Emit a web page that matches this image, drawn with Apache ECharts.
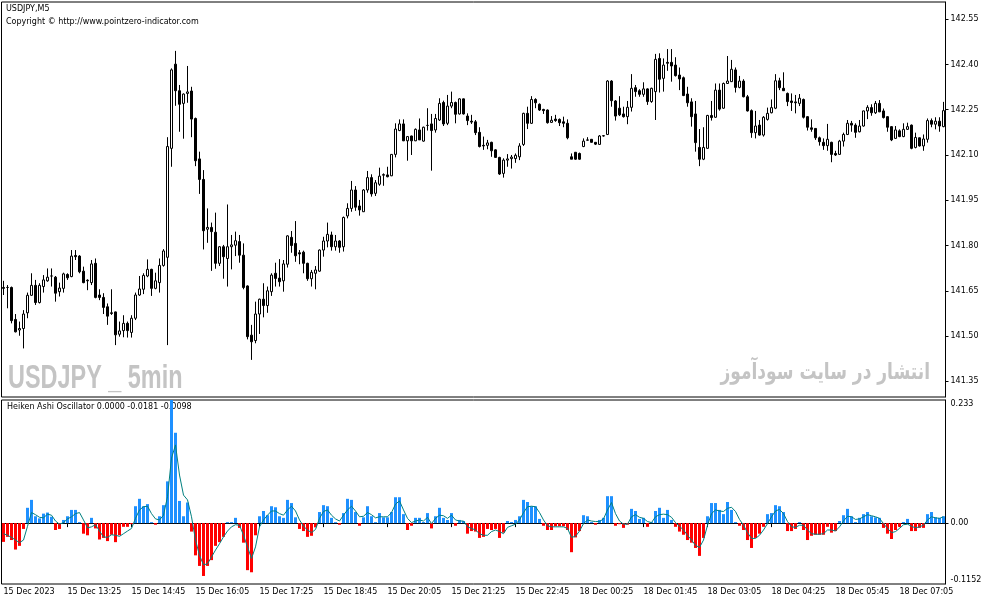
<!DOCTYPE html>
<html><head><meta charset="utf-8">
<script src="https://cdn.jsdelivr.net/npm/echarts@6/dist/echarts.min.js"></script>
<style>html,body{margin:0;padding:0;background:#fff}#c{width:987px;height:605px}</style>
</head><body><div id="c"></div>
<script>
const xTickLabels = ['15 Dec 2023','15 Dec 13:25','15 Dec 14:45','15 Dec 16:05','15 Dec 17:25','15 Dec 18:45','15 Dec 20:05','15 Dec 21:25','15 Dec 22:45','18 Dec 00:25','18 Dec 01:45','18 Dec 03:05','18 Dec 04:25','18 Dec 05:45','18 Dec 07:05'];
const priceTicks = [141.35,141.50,141.65,141.80,141.95,142.10,142.25,142.40,142.55];
const oscTickValues = [-0.1152, 0, 0.233];
const oscTickLabels = ['-0.1152','0.00','0.233'];

const open = [
141.661,141.661,141.661,141.555,141.520,141.525,141.577,141.635,141.668,141.611,
141.664,141.683,141.699,141.695,141.647,141.658,141.704,141.697,141.767,141.765,
141.715,141.685,141.677,141.741,141.636,141.628,141.597,141.577,141.580,141.506,
141.518,141.542,141.512,141.559,141.636,141.655,141.699,141.721,141.658,141.677,
141.734,141.761,142.122,142.401,142.313,142.271,142.304,142.312,142.221,142.087,
142.019,141.854,141.860,141.844,141.741,141.796,141.757,141.796,141.801,141.813,
141.768,141.666,141.503,141.485,141.573,141.622,141.601,141.647,141.708,141.692,
141.683,141.738,141.827,141.807,141.776,141.778,141.741,141.690,141.708,141.715,
141.785,141.815,141.835,141.796,141.815,141.796,141.898,141.923,141.984,141.931,
141.912,141.984,142.025,141.973,142.003,142.033,142.034,142.031,142.102,142.181,
142.203,142.147,142.163,142.147,142.183,142.146,142.198,142.203,142.183,142.216,
142.274,142.205,142.262,142.274,142.236,142.286,142.229,142.212,142.210,142.175,
142.132,142.132,142.142,142.117,142.092,142.039,142.083,142.088,142.088,142.094,
142.135,142.238,142.205,142.284,142.268,142.251,142.249,142.208,142.219,142.218,
142.210,142.205,142.094,142.109,142.105,142.128,142.149,142.152,142.142,142.135,
142.163,142.168,142.345,142.279,142.255,142.236,142.227,142.258,142.323,142.313,
142.301,142.319,142.277,142.310,142.420,142.354,142.407,142.407,142.398,142.365,
142.356,142.302,142.276,142.236,142.125,142.086,142.122,142.231,142.225,142.315,
142.255,142.337,142.343,142.382,142.324,142.345,142.293,142.247,142.174,142.199,
142.166,142.218,142.240,142.255,142.346,142.321,142.304,142.279,142.276,142.271,
142.284,142.227,142.190,142.188,142.157,142.142,142.131,142.142,142.105,142.102,
142.146,142.168,142.205,142.199,142.177,142.196,142.246,142.257,142.240,142.271,
142.246,142.227,142.194,142.155,142.180,142.161,142.185,142.199,142.125,142.157,
142.130,142.152,142.214,142.202,142.212,142.194];

const close = [
141.658,141.661,141.551,141.514,141.525,141.573,141.635,141.668,141.611,141.668,
141.686,141.695,141.699,141.642,141.659,141.706,141.693,141.765,141.763,141.713,
141.677,141.683,141.739,141.628,141.628,141.595,141.566,141.575,141.504,141.517,
141.542,141.518,141.559,141.636,141.656,141.701,141.721,141.658,141.683,141.734,
141.782,142.128,142.382,142.313,142.268,142.302,142.309,142.219,142.081,142.019,
141.849,141.860,141.846,141.741,141.796,141.763,141.796,141.802,141.816,141.768,
141.661,141.498,141.481,141.573,141.622,141.601,141.650,141.702,141.691,141.680,
141.739,141.832,141.800,141.766,141.772,141.741,141.690,141.711,141.719,141.785,
141.815,141.837,141.796,141.815,141.794,141.893,141.923,141.984,141.927,141.918,
141.984,142.025,141.971,142.008,142.030,142.035,142.028,142.102,142.186,142.203,
142.147,142.161,142.147,142.185,142.150,142.192,142.198,142.181,142.221,142.271,
142.203,142.262,142.274,142.235,142.286,142.236,142.214,142.209,142.174,142.128,
142.130,142.140,142.114,142.092,142.037,142.083,142.087,142.093,142.099,142.130,
142.238,142.205,142.284,142.273,142.249,142.247,142.207,142.215,142.214,142.207,
142.205,142.157,142.086,142.086,142.086,142.146,142.150,142.142,142.136,142.163,
142.164,142.345,142.280,142.229,142.233,142.227,142.258,142.321,142.310,142.301,
142.319,142.277,142.321,142.417,142.351,142.398,142.404,142.395,142.363,142.352,
142.297,142.273,142.227,142.141,142.086,142.125,142.231,142.224,142.315,142.252,
142.337,142.345,142.384,142.324,142.345,142.293,142.246,142.174,142.196,142.166,
142.225,142.238,142.257,142.346,142.323,142.313,142.277,142.274,142.273,142.288,
142.225,142.192,142.185,142.157,142.144,142.131,142.152,142.102,142.100,142.146,
142.168,142.205,142.199,142.175,142.196,142.246,142.258,142.240,142.271,142.243,
142.224,142.192,142.150,142.183,142.161,142.185,142.194,142.122,142.158,142.130,
142.153,142.214,142.202,142.212,142.196,142.247];

const low = [
141.636,141.592,141.542,141.512,141.501,141.459,141.559,141.633,141.603,141.608,
141.644,141.680,141.664,141.614,141.631,141.644,141.686,141.695,141.752,141.708,
141.675,141.652,141.669,141.625,141.619,141.573,141.537,141.570,141.470,141.498,
141.496,141.495,141.495,141.553,141.633,141.639,141.695,141.633,141.655,141.644,
141.730,141.470,142.061,142.263,142.177,142.154,142.273,142.159,142.063,141.971,
141.787,141.809,141.716,141.723,141.732,141.690,141.664,141.721,141.765,141.743,
141.655,141.489,141.421,141.476,141.507,141.562,141.577,141.633,141.664,141.664,
141.647,141.727,141.776,141.746,141.738,141.708,141.683,141.664,141.655,141.713,
141.763,141.794,141.783,141.783,141.776,141.780,141.890,141.912,141.915,141.899,
141.911,141.975,141.962,141.964,141.998,141.998,142.026,142.030,142.092,142.179,
142.146,142.081,142.100,142.146,142.150,142.144,142.181,142.048,142.174,142.213,
142.196,142.199,142.255,142.205,142.234,142.234,142.199,142.203,142.166,142.125,
142.117,142.119,142.094,142.090,142.034,142.025,142.061,142.055,142.074,142.083,
142.130,142.186,142.203,142.255,142.246,142.236,142.204,142.207,142.210,142.196,
142.192,142.152,142.086,142.084,142.084,142.126,142.147,142.141,142.133,142.134,
142.161,142.166,142.260,142.214,142.229,142.224,142.202,142.244,142.293,142.293,
142.293,142.266,142.273,142.216,142.307,142.310,142.379,142.343,142.360,142.315,
142.295,142.260,142.194,142.111,142.063,142.083,142.121,142.214,142.223,142.247,
142.253,142.336,142.342,142.307,142.321,142.291,142.244,142.157,142.155,142.164,
142.161,142.214,142.238,142.252,142.315,142.312,142.262,142.246,142.238,142.262,
142.221,142.181,142.177,142.150,142.131,142.117,142.114,142.076,142.097,142.100,
142.128,142.166,142.177,142.157,142.175,142.194,142.219,142.230,142.236,142.242,
142.221,142.177,142.146,142.153,142.159,142.159,142.183,142.119,142.122,142.128,
142.114,142.141,142.192,142.185,142.177,142.192];

const high = [
141.683,141.669,141.664,141.573,141.548,141.586,141.644,141.708,141.686,141.675,
141.702,141.724,141.724,141.699,141.677,141.710,141.708,141.785,141.785,141.768,
141.730,141.688,141.752,141.757,141.655,141.642,141.608,141.655,141.581,141.548,
141.569,141.548,141.569,141.644,141.699,141.708,141.754,141.723,141.710,141.757,
141.788,142.159,142.387,142.445,142.332,142.304,142.395,142.326,142.224,142.111,
142.050,141.923,141.876,141.909,141.798,141.802,141.936,141.835,141.846,141.835,
141.807,141.668,141.537,141.614,141.624,141.675,141.664,141.708,141.743,141.755,
141.752,141.834,141.848,141.881,141.785,141.783,141.743,141.719,141.732,141.787,
141.829,141.876,141.846,141.835,141.818,141.896,141.940,142.014,141.997,141.951,
141.987,142.047,142.036,142.017,142.058,142.039,142.061,142.103,142.205,142.218,
142.218,142.163,142.164,142.188,142.221,142.194,142.255,142.236,142.236,142.288,
142.280,142.299,142.310,142.277,142.288,142.287,142.238,142.233,142.216,142.192,
142.161,142.150,142.144,142.119,142.094,142.089,142.103,142.100,142.105,142.139,
142.240,142.260,142.295,142.288,142.271,142.253,142.251,142.229,142.233,142.221,
142.227,142.218,142.105,142.110,142.108,142.155,142.159,142.153,142.143,142.166,
142.166,142.348,142.348,142.282,142.295,142.260,142.279,142.368,142.332,142.318,
142.341,142.321,142.323,142.435,142.437,142.420,142.451,142.451,142.424,142.390,
142.360,142.326,142.288,142.279,142.186,142.192,142.233,142.279,142.337,142.337,
142.340,142.428,142.415,142.390,142.362,142.351,142.299,142.251,142.246,142.216,
142.229,142.257,142.284,142.368,142.356,142.374,142.307,142.304,142.299,142.302,
142.287,142.229,142.218,142.189,142.161,142.155,142.203,142.144,142.114,142.150,
142.174,142.216,142.213,142.205,142.216,142.247,142.265,142.268,142.279,142.282,
142.254,142.229,142.196,142.196,142.185,142.205,142.207,142.201,142.174,142.158,
142.168,142.221,142.221,142.225,142.225,142.276];

const oscHist = [
-0.0355,-0.026,-0.032,-0.050,-0.043,-0.011,0.029,0.044,0.013,0.009,
0.018,0.020,0.012,-0.013,-0.011,0.006,0.013,0.025,0.025,0.002,
-0.020,-0.023,0.010,-0.010,-0.031,-0.028,-0.034,-0.022,-0.036,-0.023,
-0.007,-0.007,-0.002,0.032,0.046,0.032,0.036,0.001,-0.003,0.013,
0.034,0.079,0.233,0.171,0.042,0.013,0.039,-0.016,-0.061,-0.081,
-0.100,-0.081,-0.070,-0.043,-0.036,-0.026,0.001,0.001,0.010,-0.009,
-0.037,-0.089,-0.093,-0.023,0.013,0.023,0.015,0.032,0.030,0.013,
0.010,0.044,0.038,0.011,-0.011,-0.015,-0.026,-0.024,-0.008,0.021,
0.034,0.032,0.010,0.001,-0.003,0.019,0.046,0.044,0.021,-0.005,
0.011,0.032,0.013,0.001,0.019,0.011,0.011,0.021,0.049,0.049,
0.017,-0.013,-0.005,0.010,0.010,0.002,0.019,-0.010,0.013,0.029,
0.010,0.006,0.019,-0.005,0.006,0.004,-0.020,-0.015,-0.016,-0.028,
-0.026,-0.011,-0.013,-0.011,-0.028,-0.018,0.004,0.002,0.006,0.013,
0.044,0.040,0.032,0.032,0.008,-0.005,-0.013,-0.013,-0.006,-0.006,
-0.006,-0.013,-0.055,-0.027,-0.015,0.015,0.013,0.002,-0.003,0.006,
0.010,0.051,0.051,-0.005,-0.002,-0.009,-0.003,0.027,0.023,0.008,
0.010,-0.007,0.001,0.023,0.029,0.010,0.025,0.006,-0.007,-0.016,
-0.022,-0.032,-0.037,-0.047,-0.062,-0.028,0.013,0.038,0.038,0.025,
0.017,0.040,0.025,0.002,-0.005,-0.013,-0.032,-0.047,-0.028,-0.020,
-0.007,0.017,0.019,0.034,0.032,0.021,-0.015,-0.015,-0.011,0.002,
-0.013,-0.032,-0.024,-0.022,-0.022,-0.022,-0.007,-0.018,-0.015,0.004,
0.015,0.027,0.013,0.002,0.010,0.017,0.021,0.013,0.011,0.010,
-0.009,-0.020,-0.030,-0.013,-0.007,0.002,0.008,-0.015,-0.015,-0.009,
-0.009,0.017,0.021,0.011,0.010,0.013];

const oscSignal = [
-0.020,-0.023,-0.027,-0.032,-0.037,-0.032,-0.006,0.020,0.016,0.011,
0.010,0.017,0.015,0.004,-0.002,0.001,0.008,0.012,0.018,0.020,
0.006,-0.009,-0.007,-0.003,-0.015,-0.026,-0.027,-0.022,-0.023,-0.025,
-0.020,-0.015,-0.010,0.009,0.025,0.031,0.032,0.018,0.008,0.006,
0.015,0.050,0.123,0.148,0.091,0.053,0.044,0.012,-0.032,-0.061,
-0.079,-0.077,-0.064,-0.051,-0.039,-0.026,-0.015,-0.007,-0.003,-0.004,
-0.023,-0.045,-0.067,-0.045,-0.007,0.006,0.015,0.023,0.023,0.018,
0.015,0.025,0.032,0.023,0.006,-0.006,-0.013,-0.018,-0.012,0.009,
0.022,0.025,0.015,0.008,0.004,0.015,0.025,0.032,0.023,0.012,
0.013,0.020,0.016,0.010,0.012,0.012,0.012,0.020,0.036,0.042,
0.025,0.009,0.001,0.004,0.006,0.004,0.011,-0.001,0.009,0.015,
0.014,0.009,0.015,0.006,0.004,0.004,-0.007,-0.010,-0.013,-0.020,
-0.023,-0.023,-0.016,-0.013,-0.016,-0.020,-0.008,-0.005,-0.002,0.006,
0.020,0.031,0.032,0.031,0.020,0.006,-0.005,-0.007,-0.007,-0.007,
-0.007,-0.010,-0.027,-0.025,-0.015,-0.001,0.006,0.004,0.003,0.003,
0.008,0.025,0.039,0.018,0.004,-0.002,-0.002,0.012,0.016,0.011,
0.009,0.003,0.001,0.012,0.016,0.017,0.016,0.011,0.001,-0.006,
-0.013,-0.023,-0.032,-0.042,-0.046,-0.032,-0.004,0.018,0.025,0.023,
0.022,0.028,0.030,0.022,0.007,-0.004,-0.018,-0.029,-0.029,-0.023,
-0.013,-0.001,0.012,0.023,0.026,0.018,0.003,-0.007,-0.008,-0.004,
-0.004,-0.013,-0.020,-0.021,-0.021,-0.020,-0.013,-0.013,-0.015,-0.007,
0.004,0.013,0.012,0.007,0.008,0.012,0.016,0.014,0.012,0.009,
-0.001,-0.010,-0.018,-0.016,-0.010,-0.003,-0.002,-0.006,-0.009,-0.007,
-0.004,0.006,0.012,0.010,0.009,0.012];

const categories = open.map((_, i) => String(i));
const candleData = open.map((o, i) => [o, close[i], low[i], high[i]]);
const FONT = 'DejaVu Sans';

const chart = echarts.init(document.getElementById('c'), null, {renderer: 'canvas'});
chart.setOption({
  animation: false,
  backgroundColor: '#fff',
  textStyle: {fontFamily: FONT},
  grid: [
    {left: 1.5, top: 2, width: 944, height: 395, show: true, borderColor: '#000', borderWidth: 1, backgroundColor: '#fff'},
    {left: 1.5, top: 400, width: 944, height: 184, show: true, borderColor: '#000', borderWidth: 1, backgroundColor: '#fff'}
  ],
  xAxis: [
    {type: 'category', gridIndex: 0, data: categories, boundaryGap: true,
     axisLine: {show: false}, axisTick: {show: false}, axisLabel: {show: false}, splitLine: {show: false}},
    {type: 'category', gridIndex: 1, data: categories, boundaryGap: true,
     axisLine: {show: true, lineStyle: {color: '#000', width: 1}},
     axisTick: {show: true, alignWithLabel: true, interval: 15, length: 4, lineStyle: {color: '#000'}},
     axisLabel: {interval: 15, align: 'left', margin: 4, fontSize: 8, color: '#000', fontFamily: FONT,
       formatter: (v, idx) => (idx % 16 === 0 ? xTickLabels[idx / 16] : '')},
     splitLine: {show: false}}
  ],
  yAxis: [
    {type: 'value', gridIndex: 0, position: 'right', min: 141.298, max: 142.607,
     splitLine: {show: false},
     axisLine: {show: true, lineStyle: {color: '#000'}},
     axisTick: {show: true, length: 3, customValues: priceTicks, lineStyle: {color: '#000'}},
     axisLabel: {customValues: priceTicks, formatter: v => v.toFixed(2), margin: 5, fontSize: 8, color: '#000', fontFamily: FONT}},
    {type: 'value', gridIndex: 1, position: 'right', min: -0.1152, max: 0.233,
     splitLine: {show: false},
     axisLine: {show: true, lineStyle: {color: '#000'}},
     axisTick: {show: true, length: 3, customValues: [0], lineStyle: {color: '#000'}},
     axisLabel: {customValues: oscTickValues, margin: 5, fontSize: 8, color: '#000', fontFamily: FONT,
       verticalAlignMaxLabel: 'top', verticalAlignMinLabel: 'bottom',
       formatter: v => { const i = oscTickValues.findIndex(t => Math.abs(t - v) < 1e-9); return i >= 0 ? oscTickLabels[i] : ''; }}}
  ],
  series: [
    {type: 'candlestick', xAxisIndex: 0, yAxisIndex: 0, data: candleData, barWidth: 2,
     itemStyle: {color: '#fff', color0: '#000', borderColor: '#000', borderColor0: '#000', borderWidth: 1}},
    {type: 'bar', xAxisIndex: 1, yAxisIndex: 1, data: oscHist, barWidth: 3, barMinHeight: 1,
     itemStyle: {color: p => (p.value >= 0 ? '#1E90FF' : '#FF0000')}},
    {type: 'line', xAxisIndex: 1, yAxisIndex: 1, data: oscSignal, symbol: 'none', z: 5,
     lineStyle: {color: '#008080', width: 1}}
  ],
  graphic: [
    {type: 'text', x: 6, y: 5, style: {text: 'USDJPY,M5', font: '8px "DejaVu Sans"', fill: '#000', align: 'left', verticalAlign: 'top'}},
    {type: 'text', x: 6, y: 18, style: {text: 'Copyright \u00A9 http://www.pointzero-indicator.com', font: '8px "DejaVu Sans"', fill: '#000', align: 'left', verticalAlign: 'top'}},
    {type: 'text', x: 7, y: 403, style: {text: 'Heiken Ashi Oscillator 0.0000 -0.0181 -0.0098', font: '8px "DejaVu Sans"', fill: '#000', align: 'left', verticalAlign: 'top'}},
    {type: 'text', x: 8, y: 362, scaleX: 0.71, z: 0, style: {text: 'USDJPY _ 5min', font: 'bold 33px "Liberation Sans"', fill: '#C4C4C4', align: 'left', verticalAlign: 'top'}},
    {type: 'text', x: 930, y: 362, scaleX: 0.74, z: 0, style: {text: 'انتشار در سایت سودآموز', font: 'bold 23px "DejaVu Sans"', fill: '#C4C4C4', align: 'right', verticalAlign: 'top'}}
  ]
});
</script>
</body></html>
